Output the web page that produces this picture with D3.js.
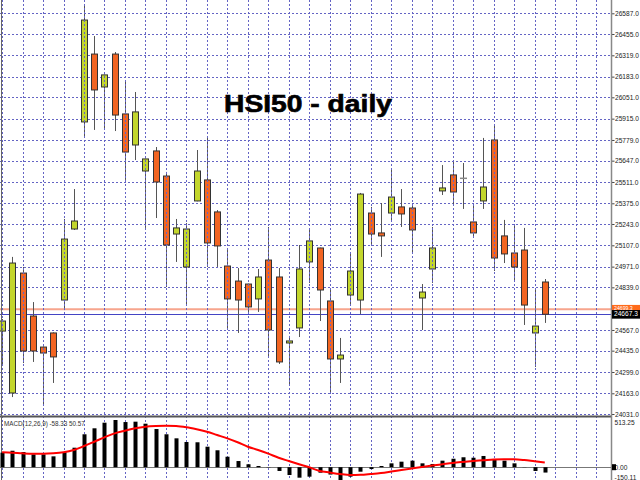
<!DOCTYPE html>
<html><head><meta charset="utf-8">
<script src="https://cdn.jsdelivr.net/npm/d3@7"></script>
<style>body{margin:0;background:#fff}svg{display:block}</style>
</head><body>
<script>
// ---- data ----
const openP  = [24560,24165,24930,24656,24458,24548,24758,25211,25894,26327,26117,26327,25945,25747,25581,25709,25549,25179,24969,25390,25524,25320,24975,24879,24860,24765,25013,24905,24484,24580,25001,25090,24752,24382,24790,24758,25313,25186,25313,25352,25345,24771,24956,25454,25556,25536,25256,25390,25779,25167,25058,25077,24548,24873];
const highP  = [24637,25033,24969,24745,24462,24552,25275,25466,26640,26442,26196,26340,26149,26085,25660,25734,25575,25275,25249,25715,25792,25332,25077,24962,24862,24956,25224,24962,24529,25109,25205,25092,24828,24516,25052,25441,25352,25377,25594,25466,25371,24860,25224,25619,25639,25632,25371,25792,25875,25269,25243,25218,24828,24892];
const lowP   = [24344,24139,24356,24363,24082,24229,24694,25205,25798,25843,25849,25836,25524,25651,25218,25281,24841,25001,24726,25388,24969,24969,24573,24548,24675,24682,24401,24350,24210,24522,24867,24624,24165,24229,24720,24669,25103,25033,25262,25224,25064,24567,24867,25428,25358,25339,25160,25339,24943,24994,24873,24599,24331,24612];
const closeP = [24624,24994,24433,24433,24420,24395,25147,25262,26544,26098,26194,25938,25702,25958,25658,25511,25109,25218,25211,25581,25122,25103,24765,24758,24714,24905,24567,24363,24497,24956,25135,24822,24382,24407,24943,25434,25179,25167,25415,25307,25205,24809,25090,25473,25447,25536,25186,25479,25026,25052,24969,24726,24592,24667.3];
const macdMain   = [158,179,165,140,140,118,162,212,358,423,484,513.25,491,495,473,415,358,314,274,271,223,184,114,67,32,13,-3,-41,-85,-114,-103,-60,-80,-150.11,-103,-49,-20,13,42,60,71,42,35,71,92,108,103,122,86,71,42,2,-41,-58.33];
const macdSignal = [162,158,151,147,147,151,162,187,230,277,325,368,397,423,440,448,451,448,434,412,386,350,314,271,223,187,147,103,67,32,-1,-41,-58,-74,-85,-83,-74,-63,-47,-30,-14,2,18,32,46,57,67,75,84,86,86,78,64,50.57];
const priceTicks = [26587,26455,26319,26183,26051,25915,25779,25647,25511,25375,25243,25107,24971,24839,24703,24567,24435,24299,24163,24031];
const hiddenTick = 24703;
const macdTicks = [513.25,0,-150.11];
const bidPrice = 24667.3, askPrice = 24699.3;
const titleText = "HSI50 - daily";
const macdLabel = "MACD(12,26,9) -58.33 50.57";

// ---- layout ----
const W=640,H=480,axisX=611;
const FONT="'Liberation Sans', Arial, sans-serif";
const svg=d3.select("body").append("svg").attr("width",W).attr("height",H).style("font-family",FONT);
svg.append("rect").attr("width",W).attr("height",H).attr("fill","#fff");

const x=d3.scaleLinear().domain([0,58]).range([2.1,596]);
const y=d3.scaleLinear().domain([24031,26587]).range([414,13.3]);
const ym=d3.scaleLinear().domain([-150.11,513.25]).range([481,420]);

const defs=svg.append("defs");
defs.append("clipPath").attr("id","cm").append("rect").attr("x",0).attr("y",0).attr("width",axisX).attr("height",416);
defs.append("clipPath").attr("id","cd").append("rect").attr("x",0).attr("y",418).attr("width",axisX).attr("height",62);

const gridColor="#6464c4";
const gMain=svg.append("g").attr("clip-path","url(#cm)");
gMain.selectAll("line.hg").data(priceTicks).join("line")
  .attr("x1",0).attr("x2",axisX).attr("y1",d=>Math.round(y(d))+0.5).attr("y2",d=>Math.round(y(d))+0.5)
  .attr("stroke",gridColor).attr("stroke-dasharray","2,2").attr("stroke-width",1);
const vIdx=d3.range(0,59,2);
svg.selectAll("line.vg").data(vIdx).join("line")
  .attr("x1",d=>Math.round(x(d))+0.5).attr("x2",d=>Math.round(x(d))+0.5).attr("y1",0).attr("y2",H)
  .attr("stroke",gridColor).attr("stroke-dasharray","2,2").attr("stroke-width",1);

// ask / bid lines
gMain.append("line").attr("x1",0).attr("x2",axisX).attr("y1",y(askPrice)).attr("y2",y(askPrice))
  .attr("stroke","#f7a58d").attr("stroke-width",2);
gMain.append("line").attr("x1",0).attr("x2",axisX).attr("y1",Math.round(y(bidPrice))+0.5).attr("y2",Math.round(y(bidPrice))+0.5)
  .attr("stroke","#4444c4").attr("stroke-width",1);

// candles
const idx=d3.range(openP.length);
const gC=gMain.append("g");
gC.selectAll("line.w").data(idx).join("line")
  .attr("x1",i=>Math.round(x(i))+0.5).attr("x2",i=>Math.round(x(i))+0.5)
  .attr("y1",i=>y(highP[i])).attr("y2",i=>y(lowP[i]))
  .attr("stroke","#555").attr("stroke-width",1);
gC.selectAll("rect.b").data(idx).join("rect")
  .attr("x",i=>Math.round(x(i))-2.5).attr("width",6)
  .attr("y",i=>y(Math.max(openP[i],closeP[i])))
  .attr("height",i=>Math.max(0.5,Math.abs(y(openP[i])-y(closeP[i]))))
  .attr("fill",i=>closeP[i]>=openP[i]?"#c3d62c":"#f26522")
  .attr("stroke",i=>openP[i]===closeP[i]?"#888":"#333").attr("stroke-width",1);

// separator & left border
svg.append("line").attr("x1",0).attr("x2",axisX).attr("y1",416.5).attr("y2",416.5).attr("stroke","#555").attr("stroke-width",2);
svg.append("line").attr("x1",1.5).attr("x2",1.5).attr("y1",0).attr("y2",H).attr("stroke","#666").attr("stroke-width",1);

// MACD panel
const gM=svg.append("g").attr("clip-path","url(#cd)");
gM.append("line").attr("x1",0).attr("x2",axisX).attr("y1",Math.round(ym(0))+0.5).attr("y2",Math.round(ym(0))+0.5)
  .attr("stroke","#777").attr("stroke-width",1);
gM.selectAll("rect.h").data(idx).join("rect")
  .attr("x",i=>Math.round(x(i))-1.5).attr("width",4)
  .attr("y",i=>Math.min(ym(0),ym(macdMain[i])))
  .attr("height",i=>Math.abs(ym(macdMain[i])-ym(0)))
  .attr("fill","#000");
gM.append("path").datum(idx)
  .attr("d",d3.line().x(i=>x(i)).y(i=>ym(macdSignal[i])).curve(d3.curveMonotoneX))
  .attr("fill","none").attr("stroke","#ff0000").attr("stroke-width",2);
svg.append("text").attr("x",4).attr("y",426).attr("font-size",6.3).attr("fill","#333").text(macdLabel);

// right axis (price)
const axisG=svg.append("g").attr("transform",`translate(${axisX+0.5},0)`)
  .call(d3.axisRight(y).tickValues(priceTicks.filter(d=>d!==hiddenTick)).tickFormat(d=>d.toFixed(1)).tickSize(3).tickPadding(0.5));
axisG.select(".domain").remove();
axisG.selectAll("text").attr("font-size",6.6).attr("fill","#222").attr("font-family",FONT);
axisG.selectAll(".tick line").attr("stroke","#444");
svg.append("line").attr("x1",axisX+0.5).attr("x2",axisX+0.5).attr("y1",0).attr("y2",H).attr("stroke","#888").attr("stroke-width",1.5);

// price labels (ask box partially covered by bid box)
const ay=y(askPrice), by=y(bidPrice);
svg.append("rect").attr("x",axisX+1).attr("y",ay-4.3).attr("width",W-axisX).attr("height",8.6).attr("fill","#ff6a1a");
svg.append("text").attr("x",axisX+3).attr("y",by-4.6).attr("font-size",5.2).attr("fill","#fff").text(askPrice.toFixed(1));
svg.append("rect").attr("x",axisX+1).attr("y",by-4.2).attr("width",W-axisX).attr("height",8.6).attr("fill","#000");
svg.append("text").attr("x",axisX+3).attr("y",by).attr("dy","0.34em").attr("font-size",6.6).attr("fill","#fff").text(bidPrice.toFixed(1));

// MACD axis labels
const mAx=svg.append("g").attr("transform",`translate(${axisX+0.5},0)`)
  .call(d3.axisRight(ym).tickValues(macdTicks).tickFormat(d=>d.toFixed(2)).tickSize(0).tickPadding(3));
mAx.select(".domain").remove();
mAx.selectAll("text").attr("font-size",6.6).attr("fill","#222").attr("font-family",FONT)
  .attr("dy",d=>d===513.25?"0.75em":(d<0?"-0.3em":"0.34em"));
svg.append("rect").attr("x",axisX+1).attr("y",ym(0)-3).attr("width",4).attr("height",6).attr("fill","#000");

// title
svg.append("text").attr("x",308).attr("y",112).attr("text-anchor","middle")
  .attr("font-size",23).attr("font-weight","bold").attr("fill","#000")
  .attr("stroke","#000").attr("stroke-width",0.6)
  .attr("textLength",168).attr("lengthAdjust","spacingAndGlyphs").text(titleText);
</script>
</body></html>
